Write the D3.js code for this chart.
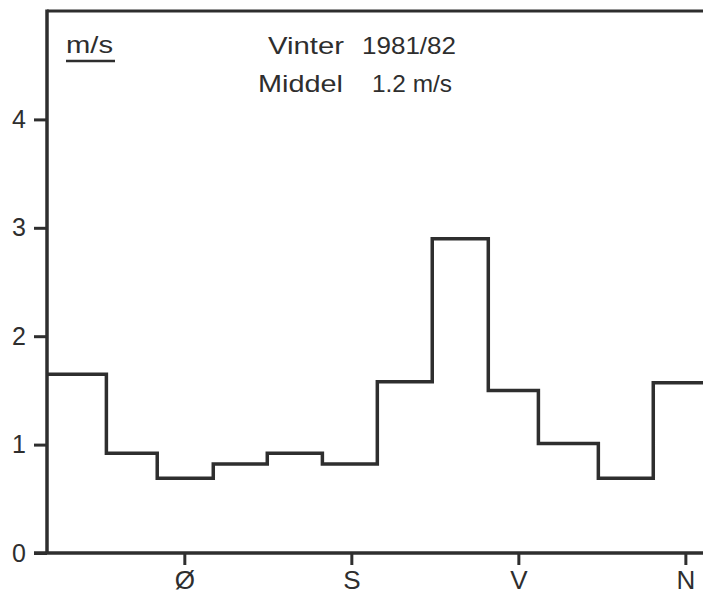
<!DOCTYPE html>
<html>
<head>
<meta charset="utf-8">
<script src="https://cdn.jsdelivr.net/npm/d3@7"></script>
<style>
  html, body { margin: 0; padding: 0; background: #fff; overflow: hidden; }
  svg { display: block; overflow: hidden; }
</style>
</head>
<body>
<script>
// Sector boundaries (degrees) and mean wind speed (m/s) per sector
const sectorStarts = [16, 48, 75.4, 105.6, 134.7, 164.4, 194, 223.6, 253.8, 280.8, 313.1, 342.7];
const sectorEnd = 369.5;
const speeds = [1.65, 0.92, 0.69, 0.82, 0.92, 0.82, 1.58, 2.90, 1.50, 1.01, 0.69, 1.57];
const xTickValues = [90, 180, 270, 360];
const xTickLabels = ["Ø", "S", "V", "N"];
const yTickValues = [0, 1, 2, 3, 4];
const unitLabel = "m/s";
const titleLine1 = ["Vinter", "1981/82"];
const titleLine2 = ["Middel", "1.2 m/s"];

const W = 703, H = 599;
const ink = "#2e2e2e";
const font = "Liberation Sans, DejaVu Sans, sans-serif";
const svg = d3.select("body").append("svg").attr("width", W).attr("height", H);

const x = d3.scaleLinear().domain([16, sectorEnd]).range([47, W]);
const y = d3.scaleLinear().domain([0, 5]).range([553, 11]);

// top frame line
svg.append("path").attr("d", `M${x(16)},${y(5)}H${x(sectorEnd)}`)
  .attr("stroke", ink).attr("stroke-width", 3.2).attr("fill", "none");

// Y axis
const gy = svg.append("g").attr("transform", `translate(${x(16)},0)`)
  .call(d3.axisLeft(y).tickValues(yTickValues).tickSize(13).tickPadding(8).tickFormat(d3.format("d")));
gy.select(".domain").attr("stroke", ink).attr("stroke-width", 3.5).attr("d", `M0,${y(0)}V${y(5) - 1.5}`);
gy.selectAll(".tick line").attr("stroke", ink).attr("stroke-width", 3);
gy.selectAll(".tick text").attr("font-size", 25).attr("fill", ink).attr("font-family", font);

// X axis
const gx = svg.append("g").attr("transform", `translate(0,${y(0)})`)
  .call(d3.axisBottom(x).tickValues(xTickValues).tickSize(12).tickPadding(6).tickFormat((d, i) => xTickLabels[i]));
gx.select(".domain").attr("stroke", ink).attr("stroke-width", 3.5).attr("d", `M${x(16) - 13},0H${x(sectorEnd)}`);
gx.selectAll(".tick line").attr("stroke", ink).attr("stroke-width", 3);
gx.selectAll(".tick text").attr("font-size", 26).attr("fill", ink).attr("font-family", font);

// step line
const pts = sectorStarts.map((s, i) => [s, speeds[i]]);
pts.push([sectorEnd, speeds[speeds.length - 1]]);
svg.append("path").datum(pts).attr("d", d3.line().x(d => x(d[0])).y(d => y(d[1])).curve(d3.curveStepAfter))
  .attr("fill", "none").attr("stroke", ink).attr("stroke-width", 3.5);

// unit label with underline
svg.append("text").attr("x", 66).attr("y", 53).attr("font-size", 24).attr("font-family", font).attr("fill", ink)
  .attr("textLength", 47).attr("lengthAdjust", "spacingAndGlyphs").text(unitLabel);
svg.append("path").attr("d", "M66,61H115").attr("stroke", ink).attr("stroke-width", 2.5);

// title text
const t1 = [[268, 76], [362, 94]];
const t2 = [[258, 85], [372, 80]];
titleLine1.forEach((s, i) => svg.append("text").attr("x", t1[i][0]).attr("y", 54).attr("font-size", 24)
  .attr("font-family", font).attr("fill", ink)
  .attr("textLength", t1[i][1]).attr("lengthAdjust", "spacingAndGlyphs").text(s));
titleLine2.forEach((s, i) => svg.append("text").attr("x", t2[i][0]).attr("y", 92).attr("font-size", 24)
  .attr("font-family", font).attr("fill", ink)
  .attr("textLength", t2[i][1]).attr("lengthAdjust", "spacingAndGlyphs").text(s));
</script>
</body>
</html>
